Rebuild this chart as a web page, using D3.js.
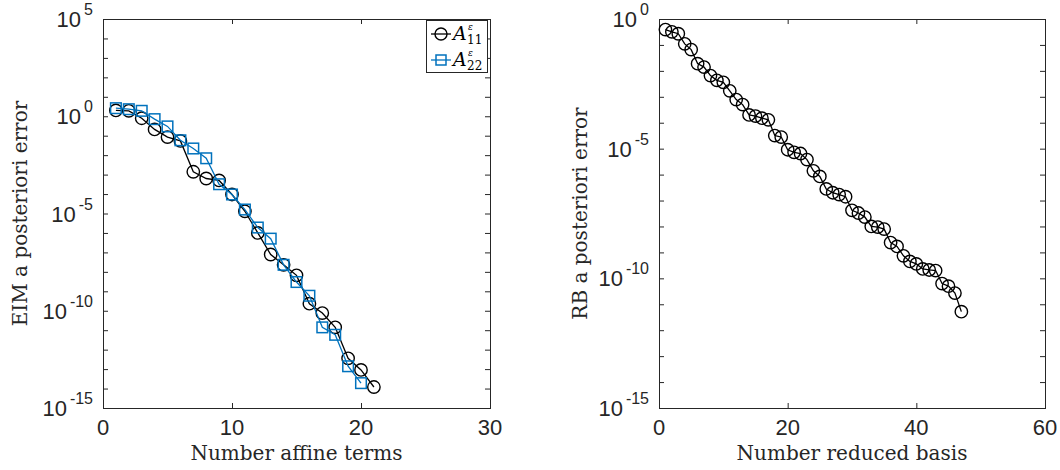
<!DOCTYPE html>
<html><head><meta charset="utf-8">
<script src="https://cdn.jsdelivr.net/npm/d3@7"></script>
<style>body{margin:0;background:#fff} svg{display:block}</style>
</head><body>
<svg id="c" width="1060" height="470"></svg>
<script>
// ---------- data ----------
const affineTerms11 = [1,2,3,4,5,6,7,8,9,10,11,12,13,14,15,16,17,18,19,20,21];
const errA11 = [2.0,1.9,0.79,0.21,0.085,0.054,1.4e-3,6.3e-4,5.0e-4,9.5e-5,1.3e-5,1.0e-6,7.8e-8,2.3e-8,6.6e-9,2.3e-10,7.6e-11,1.4e-11,3.6e-13,9.1e-14,1.2e-14];
const affineTerms22 = [1,2,3,4,5,6,7,8,9,10,11,12,13,14,15,16,17,18,19,20];
const errA22 = [2.6,2.3,1.9,0.71,0.30,0.058,0.022,6.9e-3,3.2e-4,9.5e-5,1.6e-5,1.9e-6,5.1e-7,2.3e-8,3.0e-9,5.9e-10,1.4e-11,5.8e-12,1.4e-13,1.9e-14];
const reducedBasis = [1,2,3,4,5,6,7,8,9,10,11,12,13,14,15,16,17,18,19,20,21,22,23,24,25,26,27,28,29,30,31,32,33,34,35,36,37,38,39,40,41,42,43,44,45,46,47];
const errRB = [0.39,0.32,0.27,0.11,0.066,0.019,0.014,6.6e-3,4.3e-3,3.6e-3,1.7e-3,7.8e-4,5.0e-4,2.0e-4,1.8e-4,1.5e-4,1.3e-4,3.2e-5,2.8e-5,9.1e-6,7.2e-6,6.5e-6,3.8e-6,1.4e-6,8.5e-7,2.8e-7,2.0e-7,1.7e-7,1.4e-7,4.2e-8,3.3e-8,2.3e-8,1.0e-8,9.5e-9,7.9e-9,2.4e-9,1.7e-9,7.4e-10,4.5e-10,3.6e-10,2.3e-10,2.1e-10,2.0e-10,6.3e-11,5.0e-11,2.7e-11,5.2e-12];
const leftXTicks = [0,10,20,30];
const rightXTicks = [0,20,40,60];
const leftYLabelExps = [5,0,-5,-10,-15];
const rightYLabelExps = [0,-5,-10,-15];
const leftDecades = [5,4,3,2,1,0,-1,-2,-3,-4,-5,-6,-7,-8,-9,-10,-11,-12,-13,-14,-15];
const rightDecades = [0,-1,-2,-3,-4,-5,-6,-7,-8,-9,-10,-11,-12,-13,-14,-15];
const legendLabels = [{base:"A", sup:"ε", sub:"11"},{base:"A", sup:"ε", sub:"22"}];

// ---------- drawing ----------
const svg = d3.select("#c");
const AX = "#262626", BLUE = "#0072BD";
const tickFont = "'Liberation Sans', Arial, sans-serif";
const serif = "'DejaVu Serif', 'Liberation Serif', serif";

function panel(o) {
  const x = d3.scaleLinear().domain(o.xDomain).range([o.x0, o.x1]);
  const y = d3.scaleLog().domain(o.yDomain).range([o.y1, o.y0]);
  const g = svg.append("g");
  g.append("rect").attr("x", o.x0).attr("y", o.y0).attr("width", o.x1 - o.x0).attr("height", o.y1 - o.y0)
    .attr("fill", "#fff");
  const ax = (a) => a.tickFormat("").tickSizeOuter(0);
  const gb = g.append("g").attr("transform", `translate(0,${o.y1})`).call(ax(d3.axisBottom(x).tickValues(o.xTicks).tickSizeInner(-5)));
  const gt = g.append("g").attr("transform", `translate(0,${o.y0})`).call(ax(d3.axisTop(x).tickValues(o.xTicks).tickSizeInner(-5)));
  const decVals = o.decades.map(e => Math.pow(10, e));
  const gl = g.append("g").attr("transform", `translate(${o.x0},0)`).call(ax(d3.axisLeft(y).tickValues(decVals).tickSizeInner(-5)));
  const gr = g.append("g").attr("transform", `translate(${o.x1},0)`).call(ax(d3.axisRight(y).tickValues(decVals).tickSizeInner(-5)));
  [gb, gt, gl, gr].forEach(a => { a.select(".domain").remove(); a.selectAll("line").attr("stroke", AX).attr("stroke-width", 1); });
  g.append("rect").attr("x", o.x0 + 0.5).attr("y", o.y0 + 0.5).attr("width", o.x1 - o.x0).attr("height", o.y1 - o.y0)
    .attr("fill", "none").attr("stroke", AX).attr("stroke-width", 1);

  // x tick labels
  g.selectAll(".xl").data(o.xTicks).enter().append("text")
    .attr("x", d => x(d)).attr("y", o.y1 + 27).attr("text-anchor", "middle")
    .attr("font-family", tickFont).attr("font-size", 22).attr("fill", AX).text(d => d);
  // y tick labels
  o.yLabelExps.forEach(e => {
    const t = g.append("text").attr("x", o.x0 - 10).attr("y", y(Math.pow(10, e)) + 8)
      .attr("text-anchor", "end").attr("font-family", tickFont).attr("fill", AX).attr("font-size", 22);
    t.append("tspan").text("10");
    t.append("tspan").attr("dx", 3).attr("dy", -12).attr("font-size", 16).text(String(e));
  });
  // axis titles
  g.append("text").attr("x", (o.x0 + o.x1) / 2).attr("y", 460).attr("text-anchor", "middle")
    .attr("font-family", serif).attr("font-size", 20).attr("fill", AX).text(o.xTitle);
  g.append("text").attr("transform", `translate(${o.yTitleX},${(o.y0 + o.y1) / 2}) rotate(-90)`)
    .attr("text-anchor", "middle").attr("font-family", serif).attr("font-size", 20).attr("fill", AX).text(o.yTitle);

  const plot = g.append("g");
  o.series.forEach(s => {
    const pts = s.xs.map((v, i) => [v, s.ys[i]]);
    plot.append("path").datum(pts).attr("fill", "none").attr("stroke", s.color).attr("stroke-width", 1.3)
      .attr("d", d3.line().x(d => x(d[0])).y(d => y(d[1])));
    if (s.marker === "circle") {
      plot.selectAll(null).data(pts).enter().append("circle")
        .attr("cx", d => x(d[0])).attr("cy", d => y(d[1])).attr("r", s.r)
        .attr("fill", "none").attr("stroke", s.color).attr("stroke-width", 1.4);
    } else {
      const sz = s.r * 2;
      plot.selectAll(null).data(pts).enter().append("rect")
        .attr("x", d => x(d[0]) - sz / 2).attr("y", d => y(d[1]) - sz / 2).attr("width", sz).attr("height", sz)
        .attr("fill", "none").attr("stroke", s.color).attr("stroke-width", 1.5);
    }
  });
  return g;
}

const left = panel({
  x0: 103, x1: 490, y0: 19, y1: 408,
  xDomain: [0, 30], yDomain: [1e-15, 1e5],
  xTicks: leftXTicks, decades: leftDecades, yLabelExps: leftYLabelExps,
  xTitle: "Number affine terms", yTitle: "EIM a posteriori error", yTitleX: 27,
  series: [
    {xs: affineTerms11, ys: errA11, color: "#000", marker: "circle", r: 6.2},
    {xs: affineTerms22, ys: errA22, color: BLUE, marker: "square", r: 5.3}
  ]
});

const right = panel({
  x0: 659, x1: 1045, y0: 19, y1: 408,
  xDomain: [0, 60], yDomain: [1e-15, 1],
  xTicks: rightXTicks, decades: rightDecades, yLabelExps: rightYLabelExps,
  xTitle: "Number reduced basis", yTitle: "RB a posteriori error", yTitleX: 587,
  series: [
    {xs: reducedBasis, ys: errRB, color: "#000", marker: "circle", r: 6.2}
  ]
});

// legend
const lg = svg.append("g");
lg.append("rect").attr("x", 426.5).attr("y", 20.5).attr("width", 61).attr("height", 52)
  .attr("fill", "#fff").attr("stroke", AX).attr("stroke-width", 1);
const rows = [{c: "#000", m: "circle", y: 34}, {c: BLUE, m: "square", y: 60}];
rows.forEach((r, i) => {
  lg.append("line").attr("x1", 431).attr("x2", 451).attr("y1", r.y).attr("y2", r.y).attr("stroke", r.c).attr("stroke-width", 1.3);
  if (r.m === "circle") lg.append("circle").attr("cx", 441).attr("cy", r.y).attr("r", 6).attr("fill", "none").attr("stroke", r.c).attr("stroke-width", 1.4);
  else lg.append("rect").attr("x", 436).attr("y", r.y - 5).attr("width", 10).attr("height", 10).attr("fill", "none").attr("stroke", r.c).attr("stroke-width", 1.5);
  const L = legendLabels[i];
  const t = lg.append("text").attr("font-family", serif).attr("fill", "#000");
  t.append("tspan").attr("x", 453).attr("y", r.y + 6).attr("font-size", 19).attr("font-style", "italic").text(L.base);
  t.append("tspan").attr("x", 468).attr("y", r.y - 4).attr("font-size", 9).attr("font-style", "italic").text(L.sup);
  t.append("tspan").attr("x", 467).attr("y", r.y + 10).attr("font-size", 12).text(L.sub);
});
</script>
</body></html>
